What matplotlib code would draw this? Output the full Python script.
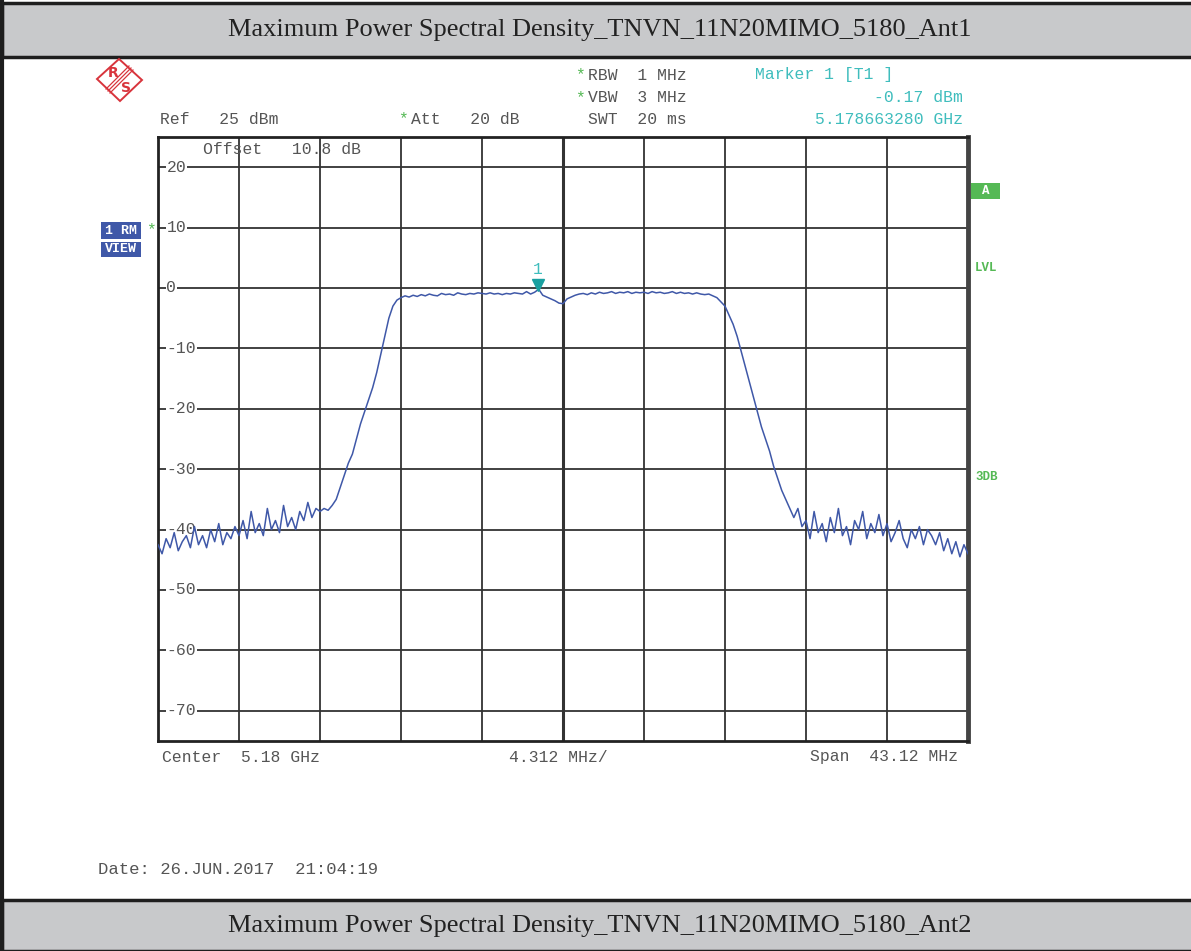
import numpy as np
import matplotlib
matplotlib.use("Agg")
from matplotlib import pyplot as plt
from matplotlib import patches, transforms

# Spectrum trace (dBm), 20 points per division
center_ghz = 5.18
span_mhz = 43.12
levels = [
    -42.5, -44.0, -41.5, -43.0, -40.5, -43.5, -42.0, -41.0, -43.0, -39.5,
    -42.5, -41.0, -43.0, -40.0, -42.0, -39.0, -42.5, -40.5, -41.5, -39.5,
    -41.0, -38.5, -41.5, -37.0, -40.5, -39.0, -41.0, -36.5, -40.0, -38.5,
    -40.5, -36.0, -39.5, -38.0, -40.0, -37.0, -38.5, -35.5, -38.0, -36.5,
    -37.0, -36.5, -36.8, -36.0, -35.0, -33.0, -31.0, -29.0, -27.5, -25.0,
    -22.5, -20.5, -18.5, -16.5, -14.0, -11.0, -8.0, -5.0, -3.0, -2.0,
    -1.6, -1.3, -1.5, -1.2, -1.4, -1.1, -1.3, -1.0, -1.2, -1.3,
    -0.9, -1.1, -1.0, -1.2, -0.8, -1.0, -1.1, -0.9, -1.0, -0.8,
    -0.9, -1.0, -0.8, -1.0, -0.9, -1.1, -0.9, -1.0, -0.8, -0.9,
    -1.0, -0.6, -1.0, -0.7, -0.2, -1.2, -1.5, -1.8, -2.1, -2.5,
    -2.6, -1.8, -1.5, -1.2, -1.0, -0.9, -1.1, -0.8, -1.0, -0.7,
    -0.9, -0.8, -0.6, -0.9, -0.7, -0.8, -0.6, -0.9, -0.7, -0.8,
    -0.7, -0.9, -0.6, -0.8, -0.7, -0.9, -0.8, -0.6, -0.9, -0.7,
    -0.9, -0.8, -1.0, -0.8, -1.0, -1.1, -1.0, -1.3, -1.6, -2.3,
    -3.0, -4.5, -6.0, -8.0, -10.5, -13.0, -15.5, -18.0, -20.5, -23.0,
    -25.0, -27.0, -29.5, -31.5, -33.5, -35.0, -36.5, -38.0, -36.5, -39.5,
    -38.5, -41.5, -37.0, -40.5, -39.0, -42.0, -38.0, -40.5, -36.5, -41.0,
    -39.5, -42.5, -38.5, -40.0, -37.0, -41.5, -39.0, -40.5, -37.5, -41.0,
    -39.0, -42.0, -40.5, -38.5, -41.5, -43.0, -40.0, -41.5, -39.5, -42.5,
    -40.0, -41.0, -42.5, -40.5, -43.5, -41.5, -44.0, -42.0, -44.5, -42.5,
    -44.0,
]
freqs = np.linspace(-span_mhz / 2, span_mhz / 2, len(levels))  # offset from center, MHz

ref_level = 25
y_ticks = [20, 10, 0, -10, -20, -30, -40, -50, -60, -70]

marker_freq_ghz = 5.178663280
marker_level = -0.17

title_top = "Maximum Power Spectral Density_TNVN_11N20MIMO_5180_Ant1"
title_bottom = "Maximum Power Spectral Density_TNVN_11N20MIMO_5180_Ant2"

W, H = 1191, 951
def px(x, y):
    return x / W, 1 - y / H

grey_txt = "#555555"
teal = "#3fbdbd"
green = "#55b955"
blue = "#3f58a8"
mono = "Liberation Mono"
fs = 11.8

fig = plt.figure(figsize=(W / 100, H / 100), dpi=100)

# header / footer bands
for y0, y1 in [(3, 57), (900, 951)]:
    fig.patches.append(patches.Rectangle(px(2, y1), 1.0, (y1 - y0) / H, transform=fig.transFigure,
                                         facecolor="#c8c9cb", edgecolor="#1e1e1e", lw=2.5))
fig.lines.append(plt.Line2D([2 / W, 2 / W], [0, 1], transform=fig.transFigure, color="#1e1e1e", lw=3))
fig.text(*px(600, 30), title_top, ha="center", va="center", fontsize=19, family="Liberation Serif", color="#222222")
fig.text(*px(600, 926), title_bottom, ha="center", va="center", fontsize=19, family="Liberation Serif", color="#222222")

# main axes
ax = fig.add_axes([158 / W, 1 - 741 / H, 810 / W, 604 / H])
ax.set_xlim(-span_mhz / 2, span_mhz / 2)
ax.set_ylim(ref_level - 100, ref_level)
for v in np.linspace(-span_mhz / 2, span_mhz / 2, 11)[1:-1]:
    ax.axvline(v, color="#333333", lw=2.2 if abs(v) < 1e-6 else 1.3, zorder=1)
for v in y_ticks:
    ax.axhline(v, color="#333333", lw=1.3, zorder=1)
ax.set_xticks([])
ax.set_yticks([])
for s in ax.spines.values():
    s.set_color("#222222")
    s.set_linewidth(2)
ax.spines["right"].set_linewidth(3.5)
ax.spines["right"].set_color("#444444")

for v in y_ticks:
    ax.text(-span_mhz / 2 + 0.45, v, "%d" % v, ha="left", va="center", family=mono, fontsize=fs,
            color=grey_txt, zorder=2, bbox=dict(facecolor="white", edgecolor="none", pad=0.5))

ax.plot(freqs, levels, color=blue, lw=1.1, zorder=4)

mk_x = (marker_freq_ghz - center_ghz) * 1000
tr = transforms.offset_copy(ax.transData, fig=fig, y=4, units="dots")
ax.plot([mk_x], [marker_level], marker="v", color="#1aa0a0", ms=8, transform=tr, zorder=5)
ax.text(mk_x, marker_level + 3.2, "1", ha="center", va="center", family=mono, fontsize=fs, color=teal)

ax.text(*(np.array([203 - 158, 741 - 150]) / np.array([810, 604])), "Offset   10.8 dB",
        transform=ax.transAxes, ha="left", va="center", family=mono, fontsize=fs, color=grey_txt)

# instrument annotations
def t(x, y, s, color=grey_txt, ha="left", fontsize=fs, **kw):
    fig.text(*px(x, y), s, ha=ha, va="center", family=mono, fontsize=fontsize, color=color, **kw)

t(160, 119, "Ref   25 dBm")
t(398, 119, "*", color=green)
t(411, 119, "Att   20 dB")
t(575, 75, "*", color=green)
t(588, 75, "RBW  1 MHz")
t(575, 98, "*", color=green)
t(588, 98, "VBW  3 MHz")
t(588, 119, "SWT  20 ms")
t(755, 75, "Marker 1 [T1 ]", color=teal)
t(963, 98, "-0.17 dBm", color=teal, ha="right")
t(963, 119, "5.178663280 GHz", color=teal, ha="right")
t(162, 757, "Center  5.18 GHz")
t(509, 757, "4.312 MHz/")
t(810, 757, "Span  43.12 MHz")
t(98, 870, "Date: 26.JUN.2017  21:04:19", fontsize=12.4)

# side boxes
for y0, y1, s in [(222, 239, "1 RM"), (242, 257, "VIEW")]:
    fig.patches.append(patches.Rectangle(px(101, y1), 40 / W, (y1 - y0) / H, transform=fig.transFigure,
                                         facecolor=blue, edgecolor="none"))
    fig.text(*px(121, (y0 + y1) / 2), s, ha="center", va="center", family=mono, fontsize=9.5,
             color="white", weight="bold")
t(146, 230, "*", color=green)
fig.patches.append(patches.Rectangle(px(971, 199), 29 / W, 16 / H, transform=fig.transFigure,
                                     facecolor=green, edgecolor="none"))
fig.text(*px(986, 191), "A", ha="center", va="center", family=mono, fontsize=9, color="white", weight="bold")
t(975, 268, "LVL", color=green, fontsize=9, weight="bold")
t(975, 477, "3DB", color=green, fontsize=9, weight="bold")

# R&S logo
red = "#d8343c"
fig.patches.append(patches.Polygon([px(119, 59), px(142, 80), px(120, 101), px(97, 79)], closed=True,
                                   transform=fig.transFigure, facecolor="none", edgecolor=red, lw=1.4))
for d in (-2, 0, 2):
    a, b = px(108 + d, 91 + d), px(131 + d, 68 + d)
    fig.lines.append(plt.Line2D([a[0], b[0]], [a[1], b[1]], transform=fig.transFigure, color=red, lw=0.9))
fig.text(*px(113, 73), "R", ha="center", va="center", fontsize=10, color=red, family="DejaVu Sans", weight="bold")
fig.text(*px(126, 88), "S", ha="center", va="center", fontsize=10, color=red, family="DejaVu Sans", weight="bold")

fig.savefig("out.png", dpi=100)
